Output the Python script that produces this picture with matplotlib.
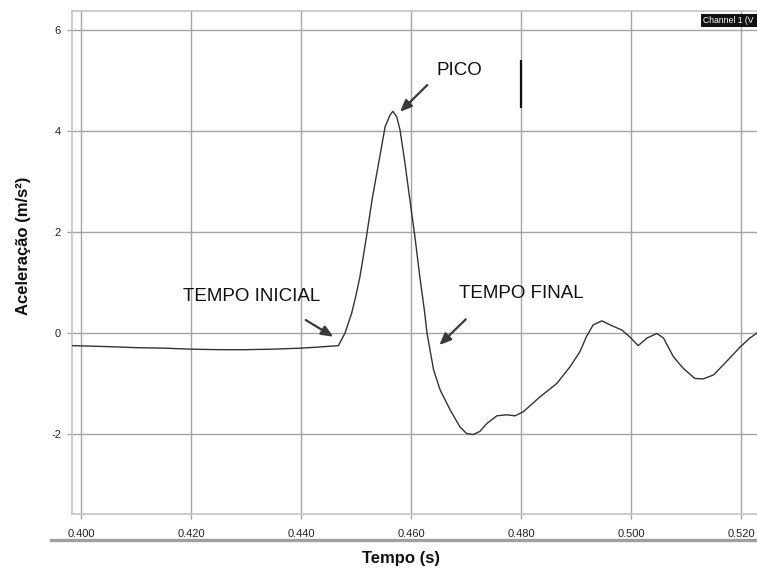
import matplotlib
matplotlib.use("Agg")
import matplotlib.pyplot as plt
from matplotlib.lines import Line2D
from matplotlib.patches import Rectangle

# ---- data ----
time_s = [0.3984, 0.405, 0.410, 0.415, 0.420, 0.425, 0.430, 0.435, 0.440, 0.443,
          0.4455, 0.4468, 0.4480, 0.4492, 0.4500, 0.4507, 0.4513, 0.4519, 0.4529,
          0.4541, 0.4553, 0.4562, 0.4567, 0.4574, 0.4580, 0.4589, 0.4598, 0.4607,
          0.4616, 0.4625, 0.4629, 0.4641, 0.4653, 0.4671, 0.4689, 0.4701, 0.4713,
          0.4725, 0.4738, 0.4756, 0.4774, 0.4789, 0.4804, 0.4835, 0.4865, 0.4889,
          0.4907, 0.4919, 0.4931, 0.4947, 0.4962, 0.4983, 0.4998, 0.5013, 0.5029,
          0.5047, 0.5059, 0.5077, 0.5095, 0.5116, 0.5131, 0.5150, 0.5174, 0.5198,
          0.5216, 0.5229]
accel = [-0.25, -0.27, -0.29, -0.30, -0.32, -0.33, -0.33, -0.32, -0.30, -0.28,
         -0.26, -0.25, 0.00, 0.39, 0.75, 1.11, 1.50, 1.91, 2.63,
         3.36, 4.09, 4.32, 4.39, 4.28, 4.02, 3.36, 2.63, 1.91,
         1.11, 0.39, 0.00, -0.73, -1.13, -1.52, -1.86, -1.99, -2.01,
         -1.95, -1.79, -1.64, -1.62, -1.64, -1.56, -1.26, -1.00, -0.67,
         -0.37, -0.07, 0.16, 0.24, 0.16, 0.06, -0.08, -0.25, -0.10,
         -0.01, -0.10, -0.47, -0.70, -0.90, -0.91, -0.83, -0.56, -0.28,
         -0.10, 0.00]

x_ticks = [0.400, 0.420, 0.440, 0.460, 0.480, 0.500, 0.520]
x_tick_labels = ["0.400", "0.420", "0.440", "0.460", "0.480", "0.500", "0.520"]
y_ticks = [-2, 0, 2, 4, 6]
y_tick_labels = ["-2", "0", "2", "4", "6"]

ann_labels = ["PICO", "TEMPO INICIAL", "TEMPO FINAL"]
ann_text_xy = [(0.46873, 5.20), (0.43109, 0.73), (0.48009, 0.79)]
ann_tail_xy = [(0.46296, 4.91), (0.44085, 0.257), (0.46995, 0.271)]
ann_tip_xy = [(0.45800, 4.38), (0.44587, -0.073), (0.46515, -0.238)]

cursor_t = 0.47994
cursor_y = (4.46, 5.41)

channel_label = "Channel 1 (V"

# ---- figure ----
W, H = 757, 571
fig = plt.figure(figsize=(W / 100, H / 100), dpi=100)
ax = fig.add_axes([72 / W, 1 - 514 / H, (757 - 72) / W, (514 - 11) / H])

ax.set_xlim(0.39836, 0.5229)
ax.set_ylim(-3.584, 6.376)

grid_c = "#a4a4a4"
frame_c = "#c4c4c4"
for s in ["left", "bottom", "top"]:
    ax.spines[s].set_color(frame_c)
    ax.spines[s].set_linewidth(1.2)
ax.spines["right"].set_visible(False)

ax.set_xticks(x_ticks)
ax.set_xticklabels(x_tick_labels)
ax.set_yticks(y_ticks)
ax.set_yticklabels(y_tick_labels)
tick_font = ["Liberation Sans Narrow", "Liberation Sans"]
for lab in ax.get_xticklabels() + ax.get_yticklabels():
    lab.set_family(tick_font)
    lab.set_fontsize(8)
    lab.set_color("#222222")
ax.tick_params(axis="x", length=3.6, width=1, color=grid_c, pad=7.5)
ax.tick_params(axis="y", length=3.6, width=1, color=grid_c, pad=4.3)
ax.grid(True, color=grid_c, linewidth=1)

ax.plot(time_s, accel, color="#333333", linewidth=1.0, zorder=3)

# cursor segment
ax.vlines(cursor_t, cursor_y[0], cursor_y[1], color="#111111", linewidth=1.6, zorder=3)

# annotations
for lab, txy, tail, tip in zip(ann_labels, ann_text_xy, ann_tail_xy, ann_tip_xy):
    ax.text(txy[0], txy[1], lab, ha="center", va="center",
            family=["Liberation Sans", "DejaVu Sans"], fontsize=13.5, color="#111111",
            zorder=4)
    ax.annotate("", xy=tip, xytext=tail,
                arrowprops=dict(arrowstyle="-|>,head_length=0.7,head_width=0.3",
                                color="#3a3a3a", lw=1.6, shrinkA=0, shrinkB=0),
                zorder=4)

# axis labels
ax.set_xlabel("Tempo (s)", family=["Liberation Sans", "DejaVu Sans"],
              fontsize=12, fontweight="bold", color="#111111")
ax.xaxis.set_label_coords((401 - 72) / 685, (514 - 558) / 503)
ax.xaxis.label.set_va("center")
ax.set_ylabel("Aceleração (m/s²)", family=["Liberation Sans", "DejaVu Sans"],
              fontsize=12, fontweight="bold", color="#111111")
ax.yaxis.set_label_coords((23 - 72) / 685, (514 - 246) / 503)
ax.yaxis.label.set_va("center")

# channel box top-right
fig.patches.append(Rectangle((701 / W, 1 - 27 / H), 60 / W, 13 / H,
                             transform=fig.transFigure, facecolor="#111111",
                             edgecolor="none", zorder=5))
fig.text(703 / W, 1 - 20.5 / H, channel_label, color="white", fontsize=6.2,
         family=tick_font, va="center", ha="left", zorder=6)

# separator bar under the x tick labels
fig.add_artist(Line2D([51 / W, 1.0], [1 - 540 / H, 1 - 540 / H],
                      transform=fig.transFigure, color="#a0a0a0", linewidth=2.4))

fig.savefig("out.png", dpi=100)
